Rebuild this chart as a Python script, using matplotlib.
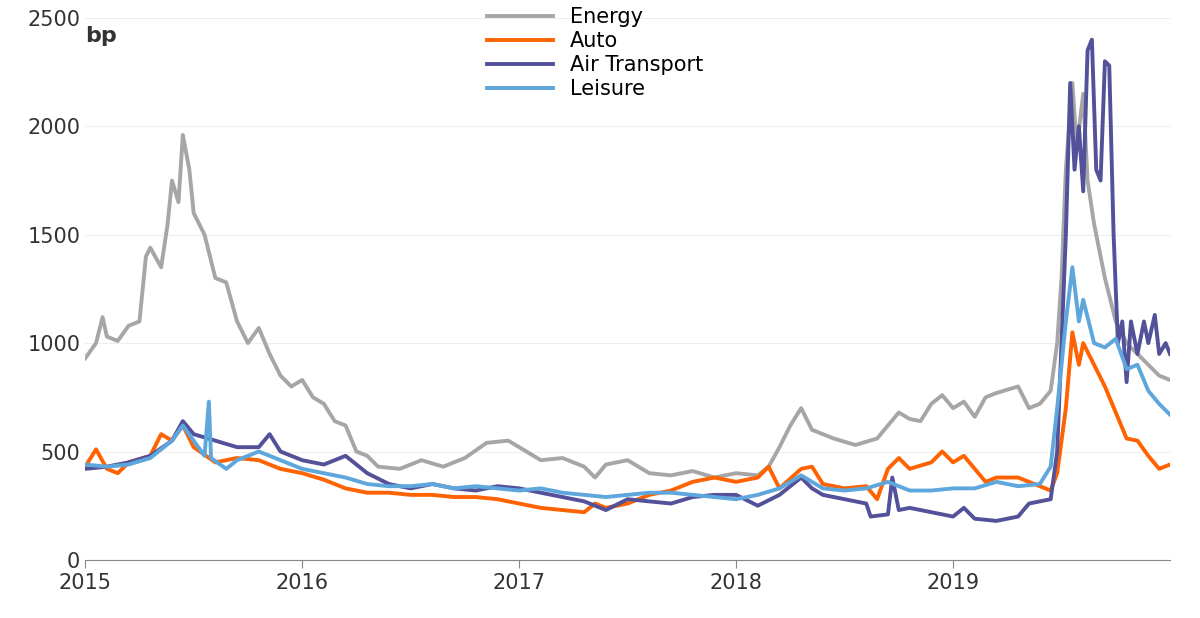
import matplotlib
matplotlib.use("Agg")
import matplotlib.pyplot as plt

energy_t = [2015.0, 2015.05, 2015.08, 2015.1, 2015.15, 2015.2, 2015.25, 2015.28, 2015.3, 2015.35, 2015.38, 2015.4, 2015.43, 2015.45, 2015.48, 2015.5, 2015.55, 2015.6, 2015.65, 2015.7, 2015.75, 2015.8, 2015.85, 2015.9, 2015.95, 2016.0, 2016.05, 2016.1, 2016.15, 2016.2, 2016.25, 2016.3, 2016.35, 2016.45, 2016.55, 2016.65, 2016.75, 2016.85, 2016.95, 2017.0, 2017.1, 2017.2, 2017.3, 2017.35, 2017.4, 2017.5, 2017.6, 2017.7, 2017.8, 2017.9, 2018.0, 2018.1, 2018.15, 2018.2, 2018.25, 2018.3, 2018.35, 2018.45, 2018.55, 2018.65, 2018.7, 2018.75, 2018.8, 2018.85, 2018.9, 2018.95, 2019.0, 2019.05, 2019.1, 2019.15, 2019.2, 2019.3, 2019.35, 2019.4, 2019.45, 2019.48, 2019.5, 2019.52, 2019.55, 2019.57, 2019.6, 2019.62, 2019.65, 2019.7, 2019.75, 2019.8, 2019.85, 2019.9, 2019.95, 2020.0]
energy_v = [930, 1000, 1120, 1030, 1010, 1080, 1100, 1400, 1440, 1350, 1550, 1750, 1650, 1960, 1800, 1600, 1500, 1300, 1280, 1100, 1000, 1070, 950, 850, 800, 830, 750, 720, 640, 620, 500, 480, 430, 420, 460, 430, 470, 540, 550, 520, 460, 470, 430, 380, 440, 460, 400, 390, 410, 380, 400, 390, 430, 520, 620, 700, 600, 560, 530, 560, 620, 680, 650, 640, 720, 760, 700, 730, 660, 750, 770, 800, 700, 720, 780, 1000, 1300, 1800, 2200, 1900, 2150, 1750, 1550, 1300, 1100, 1000, 950, 900, 850, 830]

auto_t = [2015.0, 2015.05, 2015.1, 2015.15, 2015.2, 2015.3, 2015.35, 2015.4, 2015.45, 2015.5, 2015.6, 2015.7, 2015.8, 2015.9, 2016.0, 2016.1, 2016.2, 2016.3, 2016.4, 2016.5, 2016.6, 2016.7, 2016.8, 2016.9, 2017.0, 2017.1, 2017.2, 2017.3, 2017.35, 2017.4, 2017.5, 2017.6, 2017.7, 2017.8, 2017.9, 2018.0, 2018.1, 2018.15, 2018.2, 2018.3, 2018.35, 2018.4, 2018.5, 2018.6, 2018.65, 2018.7, 2018.75, 2018.8, 2018.9, 2018.95, 2019.0, 2019.05, 2019.1, 2019.15, 2019.2, 2019.3, 2019.4, 2019.45, 2019.48, 2019.52, 2019.55, 2019.58, 2019.6, 2019.65, 2019.7, 2019.75, 2019.8, 2019.85, 2019.9, 2019.95, 2020.0]
auto_v = [430, 510, 420, 400, 450, 480, 580, 550, 620, 520, 450, 470, 460, 420, 400, 370, 330, 310, 310, 300, 300, 290, 290, 280, 260, 240, 230, 220, 260, 240, 260, 300, 320, 360, 380, 360, 380, 430, 330, 420, 430, 350, 330, 340, 280, 420, 470, 420, 450, 500, 450, 480, 420, 360, 380, 380, 340, 320, 400, 700, 1050, 900, 1000, 900, 800, 680, 560, 550, 480, 420, 440]

air_t = [2015.0, 2015.1, 2015.2, 2015.3, 2015.4, 2015.45, 2015.5, 2015.6, 2015.7, 2015.8, 2015.85, 2015.9, 2016.0, 2016.1, 2016.2, 2016.3, 2016.4, 2016.5, 2016.6, 2016.7, 2016.8, 2016.9, 2017.0, 2017.1, 2017.2, 2017.3, 2017.4, 2017.5, 2017.6, 2017.7, 2017.8, 2017.9, 2018.0, 2018.1, 2018.2, 2018.3, 2018.35, 2018.4, 2018.5, 2018.6, 2018.62, 2018.7, 2018.72, 2018.75, 2018.8, 2018.9, 2019.0, 2019.05, 2019.1, 2019.2, 2019.3, 2019.35, 2019.45, 2019.48, 2019.5, 2019.52, 2019.54, 2019.56, 2019.58, 2019.6, 2019.62, 2019.64, 2019.66, 2019.68, 2019.7, 2019.72, 2019.74, 2019.76, 2019.78, 2019.8, 2019.82, 2019.85, 2019.88, 2019.9, 2019.93, 2019.95, 2019.98, 2020.0]
air_v = [420, 430, 450, 480, 550, 640, 580, 550, 520, 520, 580, 500, 460, 440, 480, 400, 350, 330, 350, 330, 320, 340, 330, 310, 290, 270, 230, 280, 270, 260, 290, 300, 300, 250, 300, 380, 330, 300, 280, 260, 200, 210, 380, 230, 240, 220, 200, 240, 190, 180, 200, 260, 280, 500, 1000, 1500, 2200, 1800, 2000, 1700, 2350, 2400, 1800, 1750, 2300, 2280, 1500, 1000, 1100, 820, 1100, 950, 1100, 1000, 1130, 950, 1000, 950]

leis_t = [2015.0, 2015.1, 2015.2, 2015.3, 2015.4, 2015.45, 2015.5, 2015.55, 2015.57, 2015.58, 2015.65, 2015.7, 2015.8, 2015.9, 2016.0, 2016.1, 2016.2, 2016.3, 2016.4, 2016.5, 2016.6, 2016.7, 2016.8, 2016.9, 2017.0, 2017.1, 2017.2, 2017.3, 2017.4, 2017.5, 2017.6, 2017.7, 2017.8, 2017.9, 2018.0, 2018.1, 2018.2, 2018.3, 2018.35, 2018.4, 2018.5, 2018.6, 2018.7, 2018.8, 2018.9, 2019.0, 2019.1, 2019.2, 2019.3, 2019.4, 2019.45, 2019.48, 2019.52, 2019.55, 2019.58, 2019.6, 2019.65, 2019.7, 2019.75, 2019.8, 2019.85, 2019.9, 2019.95, 2020.0]
leis_v = [440, 430, 440, 470, 550, 620, 550, 480, 730, 470, 420, 460, 500, 460, 420, 400, 380, 350, 340, 340, 350, 330, 340, 330, 320, 330, 310, 300, 290, 300, 310, 310, 300, 290, 280, 300, 330, 390, 360, 330, 320, 330, 360, 320, 320, 330, 330, 360, 340, 350, 430, 700, 1100, 1350, 1100, 1200, 1000, 980, 1020, 880, 900, 780, 720, 670]

years = [2015, 2016, 2017, 2018, 2019]

fig = plt.figure(figsize=(12, 6.18), dpi=100)
ax = fig.add_axes([0.071, 0.094, 0.904, 0.877])

ax.plot(energy_t, energy_v, color="#a6a6a6", lw=2.8, label="Energy")
ax.plot(auto_t, auto_v, color="#ff6200", lw=2.8, label="Auto")
ax.plot(air_t, air_v, color="#525199", lw=2.8, label="Air Transport")
ax.plot(leis_t, leis_v, color="#5ea7dc", lw=2.8, label="Leisure")

ax.set_xlim(2015, 2020)
ax.set_ylim(0, 2500)
ax.set_xticks(years)
ax.set_xticklabels([str(y) for y in years])
ax.set_yticks(range(0, 2501, 500))
ax.grid(axis="y", color="#eeeeee", lw=0.8)
ax.set_axisbelow(True)
for s in ["top", "right", "left"]:
    ax.spines[s].set_visible(False)
ax.spines["bottom"].set_color("#888888")
ax.tick_params(axis="y", length=0, labelsize=15, colors="#333333")
ax.tick_params(axis="x", length=6, color="#888888", labelsize=15, colors="#333333")
ax.text(0.0, 0.985, "bp", transform=ax.transAxes, fontsize=16, fontweight="bold",
        color="#333333", va="top")
ax.legend(loc="upper center", bbox_to_anchor=(0.47, 1.055), frameon=False,
          fontsize=15, handlelength=3.2, labelspacing=0.2)

fig.savefig("out.png")
